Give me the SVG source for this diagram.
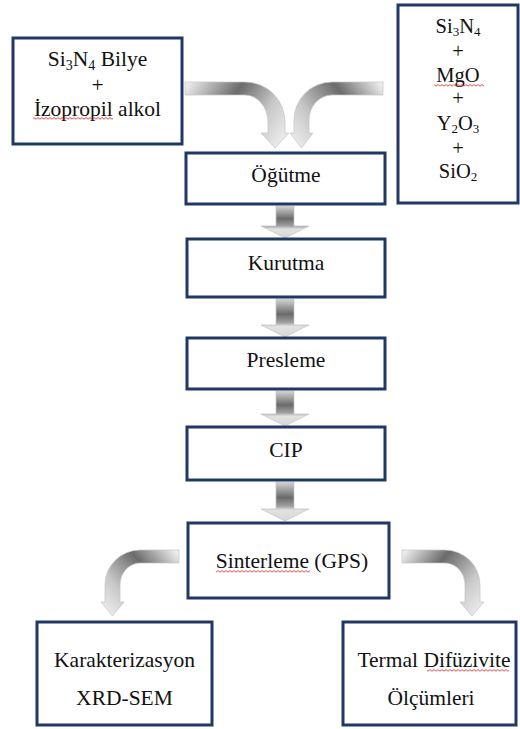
<svg xmlns="http://www.w3.org/2000/svg" width="520" height="729" viewBox="0 0 520 729">
<style>
.box{fill:#ffffff;stroke:#203864;stroke-width:3}
.t{font-family:'Liberation Serif','Times New Roman',serif;font-size:21.5px;fill:#111111;text-anchor:middle}
.s{font-size:20.5px}
.arr{stroke:#c4c4c4;stroke-width:0.7}
</style>
<defs>
<linearGradient id="gd" x1="0" y1="0" x2="0" y2="1">
<stop offset="0" stop-color="#d4d4d4"/>
<stop offset="0.4" stop-color="#6a6a6a"/>
<stop offset="0.62" stop-color="#a0a0a0"/>
<stop offset="0.72" stop-color="#e2e2e2"/>
<stop offset="1" stop-color="#d6d6d6"/>
</linearGradient>
<linearGradient id="gTL" gradientUnits="userSpaceOnUse" x1="185" y1="88" x2="275" y2="148">
<stop offset="0" stop-color="#ececec"/><stop offset="0.42" stop-color="#6b6b6b"/><stop offset="0.75" stop-color="#c8c8c8"/><stop offset="1" stop-color="#e8e8e8"/>
</linearGradient>
<linearGradient id="gTR" gradientUnits="userSpaceOnUse" x1="383" y1="88" x2="301" y2="148">
<stop offset="0" stop-color="#ececec"/><stop offset="0.36" stop-color="#6b6b6b"/><stop offset="0.75" stop-color="#c8c8c8"/><stop offset="1" stop-color="#e8e8e8"/>
</linearGradient>
<linearGradient id="gBL" gradientUnits="userSpaceOnUse" x1="179" y1="556" x2="112" y2="615">
<stop offset="0" stop-color="#ececec"/><stop offset="0.37" stop-color="#6b6b6b"/><stop offset="0.75" stop-color="#c8c8c8"/><stop offset="1" stop-color="#e8e8e8"/>
</linearGradient>
<linearGradient id="gBR" gradientUnits="userSpaceOnUse" x1="402" y1="556" x2="472" y2="615">
<stop offset="0" stop-color="#ececec"/><stop offset="0.36" stop-color="#6b6b6b"/><stop offset="0.75" stop-color="#c8c8c8"/><stop offset="1" stop-color="#e8e8e8"/>
</linearGradient>
<pattern id="wave" width="4" height="3" patternUnits="userSpaceOnUse">
<path d="M0,2.2 L2,0.6 L4,2.2" fill="none" stroke="#e02020" stroke-width="0.8"/>
</pattern>
</defs>

<g id="connectors">
<path class="arr" fill="url(#gTL)" d="M185,82 H245 A40,40 0 0 1 285,122 V133 H289 L275,148 L261,133 H268 V122 A23,27 0 0 0 245,95 H185 Z"/>
<path class="arr" fill="url(#gTR)" d="M383,82 H332 A38,38 0 0 0 294,120 V133 H290 L301.5,148 L313,133 H309 V120 A23,25 0 0 1 332,95 H383 Z"/>
<path class="arr" fill="url(#gd)" d="M276,206 H294 V226 H309 L285,238 L261,226 H276 Z"/>
<path class="arr" fill="url(#gd)" d="M276,299 H294 V325 H309 L285,337 L261,325 H276 Z"/>
<path class="arr" fill="url(#gd)" d="M276,391 H294 V414 H309 L285,426 L261,414 H276 Z"/>
<path class="arr" fill="url(#gd)" d="M276,482 H294 V509 H309 L285,521 L261,509 H276 Z"/>
<path class="arr" fill="url(#gBL)" d="M179,550 H140 A35,35 0 0 0 105,585 V602 H101 L112.5,616 L124,602 H120 V585 A20,22 0 0 1 140,563 H179 Z"/>
<path class="arr" fill="url(#gBR)" d="M402,550 H445 A35,35 0 0 1 480,585 V602 H484 L472,616 L460,602 H465 V585 A20,22 0 0 0 445,563 H402 Z"/>
</g>

<g id="n-bilye">
<rect class="box" x="13" y="38" width="169" height="106"/>
<text class="t" x="97.5" y="66">Si<tspan font-size="14" dy="4">3</tspan><tspan dy="-4">N</tspan><tspan font-size="14" dy="4">4</tspan><tspan dy="-4"> Bilye</tspan></text>
<text class="t" x="97.5" y="92">+</text>
<text class="t" x="97.5" y="116">İzopropil alkol</text>
<rect x="33" y="117" width="80" height="3" fill="url(#wave)"/>
</g>

<g id="n-tozlar">
<rect class="box" x="398" y="5" width="120" height="198"/>
<text class="t s" x="458" y="33">Si<tspan font-size="13" dy="3">3</tspan><tspan dy="-3">N</tspan><tspan font-size="13" dy="3">4</tspan></text>
<text class="t s" x="458" y="58">+</text>
<text class="t s" x="458" y="82">MgO</text>
<rect x="434" y="84" width="50" height="3" fill="url(#wave)"/>
<text class="t s" x="458" y="105">+</text>
<text class="t s" x="458" y="130">Y<tspan font-size="13" dy="3">2</tspan><tspan dy="-3">O</tspan><tspan font-size="13" dy="3">3</tspan></text>
<text class="t s" x="458" y="155">+</text>
<text class="t s" x="458" y="178">SiO<tspan font-size="13" dy="3">2</tspan></text>
</g>

<g id="n-ogutme">
<rect class="box" x="186" y="153" width="199" height="51"/>
<text class="t" x="286" y="182">Öğütme</text>
</g>

<g id="n-kurutma">
<rect class="box" x="187" y="239" width="198" height="58"/>
<text class="t" x="286" y="270">Kurutma</text>
</g>

<g id="n-presleme">
<rect class="box" x="187" y="338" width="198" height="51"/>
<text class="t" x="286" y="367">Presleme</text>
</g>

<g id="n-cip">
<rect class="box" x="187" y="427" width="198" height="53"/>
<text class="t" x="286" y="457">CIP</text>
</g>

<g id="n-sinterleme">
<rect class="box" x="188" y="523" width="201" height="75"/>
<text class="t" x="292" y="568">Sinterleme (GPS)</text>
<rect x="216" y="570" width="94" height="3" fill="url(#wave)"/>
</g>

<g id="n-karakterizasyon">
<rect class="box" x="37" y="622" width="175" height="103"/>
<text class="t" x="124.5" y="667">Karakterizasyon</text>
<text class="t" x="124.5" y="705">XRD-SEM</text>
</g>

<g id="n-termal">
<rect class="box" x="343" y="622" width="173" height="103"/>
<text class="t" x="434" y="667">Termal Difüzivite</text>
<rect x="427" y="669" width="82" height="3" fill="url(#wave)"/>
<text class="t" x="431" y="705">Ölçümleri</text>
</g>
</svg>
